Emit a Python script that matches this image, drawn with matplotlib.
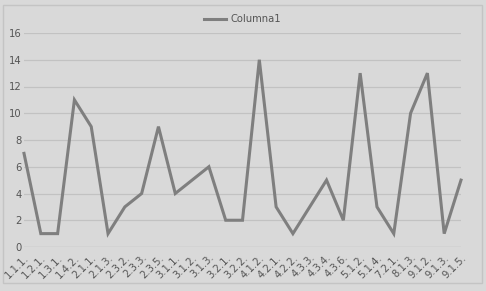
import matplotlib.pyplot as plt
import matplotlib.patches as mpatches

labels = ['1.1.1.', '1.2.1.', '1.3.1.', '1.4.2.', '2.1.1.', '2.1.3.', '2.3.2.',
          '2.3.3.', '2.3.5.', '3.1.1.', '3.1.2.', '3.1.3.', '3.2.1.', '3.2.2.',
          '4.1.2.', '4.2.1.', '4.2.2.', '4.3.3.', '4.3.4.', '4.3.6.', '5.1.2.',
          '5.1.4.', '7.2.1.', '8.1.3.', '9.1.2.', '9.1.3.', '9.1.5.']
values = [7, 1, 1, 11, 9, 1, 3, 4, 9, 4, 5, 6, 2, 2, 14, 3, 1, 3, 5, 2, 13,
          3, 1, 10, 13, 1, 5]
yticks = [0, 2, 4, 6, 8, 10, 12, 14, 16]

bg = '#d9d9d9'
fig = plt.figure(figsize=(4.86, 2.91), dpi=100, facecolor=bg)

# chart border
fig.patches.append(mpatches.Rectangle((3 / 486, 1 - 283 / 291), 479 / 486, 278 / 291,
                                      transform=fig.transFigure, fill=False,
                                      edgecolor='#c4c4c4', linewidth=1))

ax = fig.add_axes([24 / 486, 1 - 247 / 291, 437 / 486, 214 / 291])
ax.set_facecolor(bg)
x = list(range(len(values)))
ax.plot(x, values, color='#7f7f7f', linewidth=2.2, label='Columna1',
        solid_joinstyle='miter', clip_on=False)

ax.set_xlim(0, len(values) - 1)
ax.set_ylim(0, 16)
ax.set_yticks(yticks)
ax.set_xticks(x)
ax.set_xticklabels(labels, rotation=45, ha='right', rotation_mode='anchor',
                   fontsize=7.2, color='#555555')
ax.tick_params(axis='y', labelsize=7.2, labelcolor='#555555', length=0, pad=1.5)
ax.tick_params(axis='x', length=0, pad=4)
ax.grid(axis='y', color='#c2c2c2', linewidth=0.9)
ax.set_axisbelow(True)
for s in ax.spines.values():
    s.set_visible(False)
ax.axhline(0, color='#c2c2c2', linewidth=0.9, zorder=0)

ax.legend(loc='center', bbox_to_anchor=(0.5, 1 + 14 / 214), frameon=False,
          fontsize=7.2, labelcolor='#555555', handlelength=2.2, handletextpad=0.4)

fig.savefig('out.png', dpi=100, facecolor=bg)
